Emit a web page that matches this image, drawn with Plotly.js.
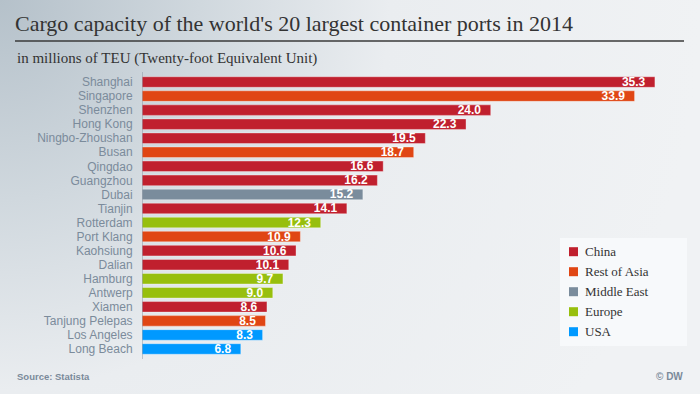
<!DOCTYPE html>
<html>
<head>
<meta charset="utf-8">
<script src="https://cdn.plot.ly/plotly-3.0.1.min.js"></script>
<style>
  html, body { margin:0; padding:0; }
  body {
    width:700px; height:394px; overflow:hidden;
    background: radial-gradient(circle at 0 0, #b5c1ca 0px, #d0d8de 200px, #eaedf0 390px, #f0f2f4 700px);
  }
  #chart { width:700px; height:394px; }
</style>
</head>
<body>
<div id="chart"></div>
<script>
// ---- data ----
const ports = ["Shanghai","Singapore","Shenzhen","Hong Kong","Ningbo-Zhoushan","Busan","Qingdao","Guangzhou","Dubai","Tianjin","Rotterdam","Port Klang","Kaohsiung","Dalian","Hamburg","Antwerp","Xiamen","Tanjung Pelepas","Los Angeles","Long Beach"];
const teu = [35.3,33.9,24.0,22.3,19.5,18.7,16.6,16.2,15.2,14.1,12.3,10.9,10.6,10.1,9.7,9.0,8.6,8.5,8.3,6.8];
const portRegion = ["China","Rest of Asia","China","China","China","Rest of Asia","China","China","Middle East","China","Europe","Rest of Asia","China","China","Europe","Europe","China","Rest of Asia","USA","USA"];
const regions = ["China","Rest of Asia","Middle East","Europe","USA"];
const regionColors = ["#c0202e","#e04614","#7a8c9c","#97bf0d","#0099ff"];

const titleText = "Cargo capacity of the world's 20 largest container ports in 2014";
const subtitleText = "in millions of TEU (Twenty-foot Equivalent Unit)";
const sourceText = "Source: Statista";
const creditText = "© DW";

// ---- geometry helpers (pixel -> paper) ----
const L = 142, R = 10, T = 75, B = 38, W = 700, H = 394;
const pw = W - L - R, ph = H - T - B;
const px = x => (x - L) / pw;
const py = y => (H - B - y) / ph;

const colorOf = r => regionColors[regions.indexOf(r)];

const trace = {
  type: 'bar',
  orientation: 'h',
  x: teu,
  y: ports,
  marker: {
    color: portRegion.map(colorOf),
    line: { color: 'rgba(255,255,255,0.35)', width: 1 }
  },
  texttemplate: '%{x:.1f}\u00a0\u00a0',
  textposition: 'inside',
  insidetextanchor: 'end',
  constraintext: 'none',
  insidetextfont: { family: 'Liberation Sans, Arial, sans-serif', size: 12, color: '#ffffff', weight: 'bold' },
  hoverinfo: 'skip',
  showlegend: false
};

const shapes = [
  // title rule
  { type:'line', xref:'paper', yref:'paper', x0:px(15), x1:px(684), y0:py(41), y1:py(41), line:{color:'#3a3a3a', width:1.5} },
  // axis line
  { type:'line', xref:'x', yref:'paper', x0:0, x1:0, y0:py(359), y1:py(72), line:{color:'#8c98a4', width:1} },
  // legend box
  { type:'rect', xref:'paper', yref:'paper', x0:px(560), x1:px(687), y0:py(346), y1:py(238), fillcolor:'#f7f9fb', line:{width:0}, layer:'below' }
];

const annotations = [
  { text: subtitleText, xref:'paper', yref:'paper', x:px(15), y:py(59), xanchor:'left', yanchor:'middle', showarrow:false,
    font:{family:'Liberation Serif, serif', size:15, color:'#333333'} },
  { text: sourceText, xref:'paper', yref:'paper', x:px(15), y:py(376), xanchor:'left', yanchor:'middle', showarrow:false,
    font:{family:'Liberation Sans, Arial, sans-serif', size:9.5, color:'#7a8a9a', weight:'bold'} },
  { text: creditText, xref:'paper', yref:'paper', x:px(685), y:py(376), xanchor:'right', yanchor:'middle', showarrow:false,
    font:{family:'Liberation Sans, Arial, sans-serif', size:10, color:'#7a8a9a', weight:'bold'} }
];

regions.forEach((r, i) => {
  const cy = 251.7 + 20 * i;
  shapes.push({ type:'rect', xref:'paper', yref:'paper', x0:px(569), x1:px(578), y0:py(cy + 4.5), y1:py(cy - 4.5),
    fillcolor: regionColors[i], line:{width:0} });
  annotations.push({ text: r, xref:'paper', yref:'paper', x:px(583), y:py(cy), xanchor:'left', yanchor:'middle', showarrow:false,
    font:{family:'Liberation Serif, serif', size:13, color:'#333333'} });
});

const layout = {
  width: W, height: H,
  margin: { l:L, r:R, t:T, b:B, pad:0 },
  paper_bgcolor: 'rgba(0,0,0,0)',
  plot_bgcolor: 'rgba(0,0,0,0)',
  title: { text: titleText, xref:'container', yref:'container', x: 15/W, xanchor:'left', y: 1 - 23/H, yanchor:'middle',
    font:{family:'Liberation Serif, serif', size:22, color:'#333333'} },
  bargap: 0.25,
  xaxis: { range:[0, pw/14.53], showgrid:false, zeroline:false, showticklabels:false, showline:false, fixedrange:true },
  yaxis: { type:'category', autorange:'reversed', showgrid:false, zeroline:false, showline:false,
    ticks:'outside', ticklen:6, tickcolor:'rgba(0,0,0,0)',
    tickfont:{family:'Liberation Sans, Arial, sans-serif', size:12, color:'#7b8b9b'}, fixedrange:true },
  shapes: shapes,
  annotations: annotations,
  showlegend: false
};

Plotly.newPlot('chart', [trace], layout, { displayModeBar:false, staticPlot:true });
</script>
</body>
</html>
